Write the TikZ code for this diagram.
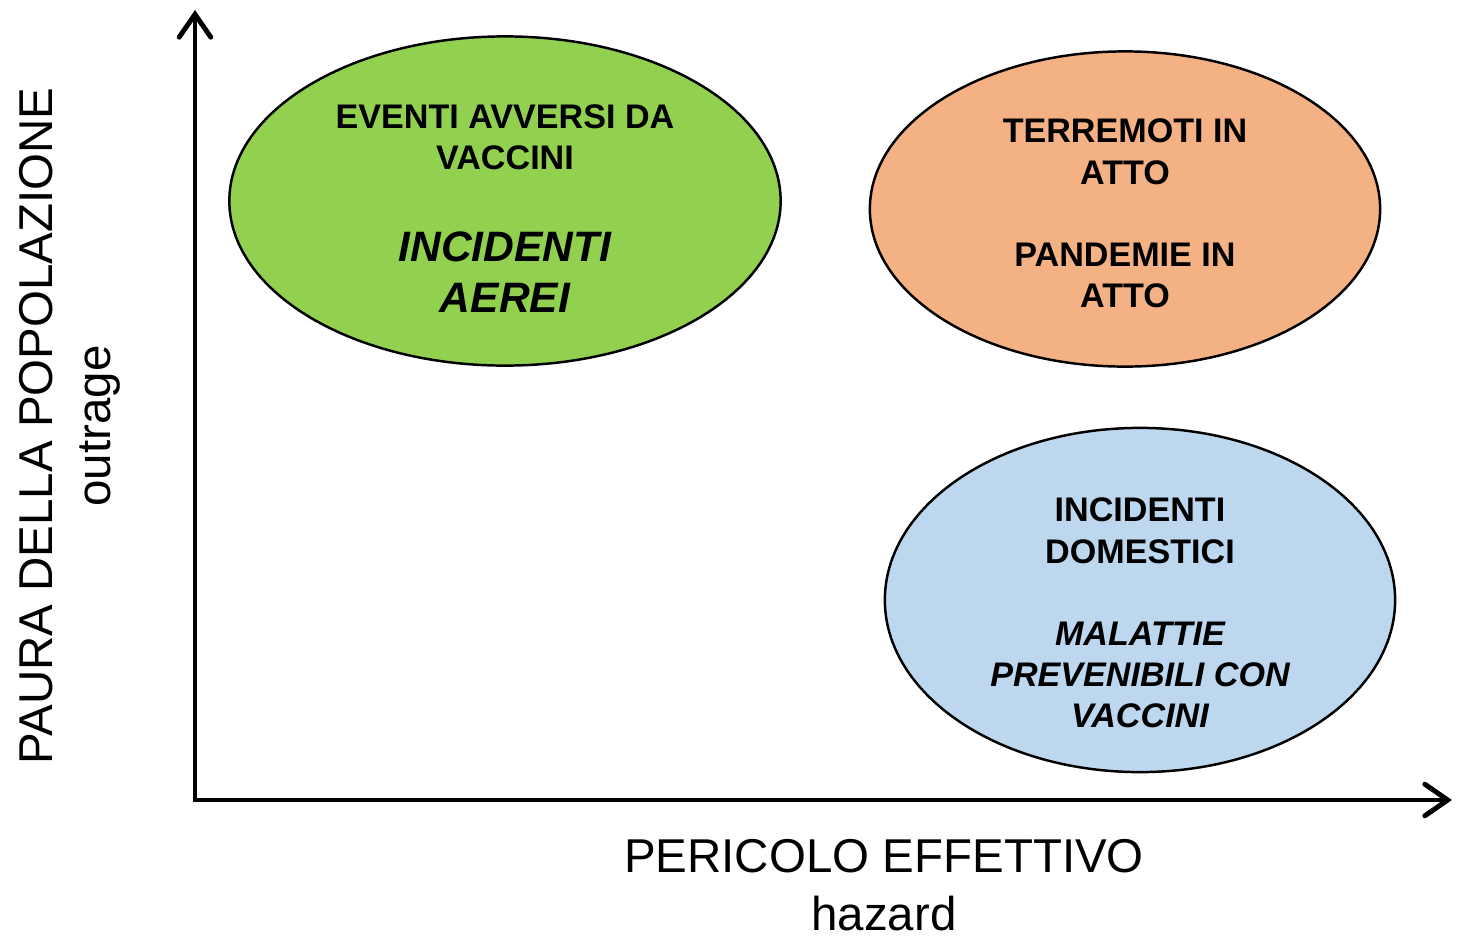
\documentclass[tikz,border=0pt]{standalone}
\usepackage{fontspec}
\setmainfont{Liberation Sans}
\usetikzlibrary{arrows.meta,shapes.geometric}

\definecolor{verde}{HTML}{92D050}
\definecolor{arancio}{HTML}{F4B183}
\definecolor{azzurro}{HTML}{BDD7EE}
\newcommand{\grande}{\fontsize{12.1}{14.5}\selectfont\itshape}
\newcommand{\spinta}[1]{\rule{0pt}{#1}}

\begin{document}
\begin{tikzpicture}[x=0.01cm,y=-0.01cm,
    bolla/.style={ellipse,draw=black,line width=0.7pt,inner xsep=0pt,inner ysep=-15pt,align=center,
      font=\fontsize{9.7}{11.7}\selectfont\bfseries},
    asse/.style={line width=1.4pt,
      {Straight Barb[length=6.5pt,width=9pt,line cap=round]}-{Straight Barb[length=6.5pt,width=9pt,line cap=round]}},
    etichetta/.style={align=center,font=\fontsize{13.5}{16.5}\selectfont}]
    \useasboundingbox (0,0) rectangle (1468,936);

    \coordinate (O) at (195,800);
    \coordinate (ytip) at (195,10);
    \coordinate (xtip) at (1452,800);
    \draw[asse] (xtip) -- (O) -- (ytip);

    \node[bolla,fill=verde,minimum width=5.51cm,minimum height=3.29cm] (aerei) at (505,201)
        {\spinta{11pt}EVENTI AVVERSI DA\\VACCINI\\[14.5pt]\grande INCIDENTI\\[2.8pt]\grande AEREI};
    \node[bolla,fill=arancio,minimum width=5.10cm,minimum height=3.15cm] (terremoti) at (1125,209)
        {\spinta{9.3pt}TERREMOTI IN\\ATTO\\[11.7pt]PANDEMIE IN\\ATTO};
    \node[bolla,fill=azzurro,minimum width=5.10cm,minimum height=3.44cm] (domestici) at (1140,600)
        {\spinta{14.2pt}INCIDENTI\\DOMESTICI\\[11.7pt]\itshape MALATTIE\\\itshape PREVENIBILI CON\\\itshape VACCINI};

    \node[etichetta,rotate=90] (paura) at (70,426) {PAURA DELLA POPOLAZIONE\\outrage};
    \node[etichetta] (pericolo) at (884,885) {PERICOLO EFFETTIVO\\hazard};
\end{tikzpicture}
\end{document}
